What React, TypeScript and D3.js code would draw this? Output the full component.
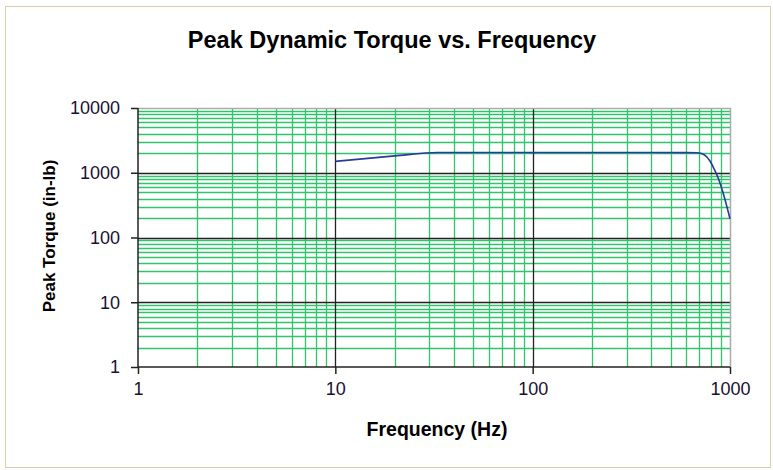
import React, { useEffect, useRef } from 'react'
import * as d3 from 'd3'

// Frequency (Hz) vs peak torque (in-lb)
const freq = [10, 20, 33, 100, 400, 680, 740, 790, 830, 870, 930, 1000]
const torque = [1500, 1820, 2050, 2050, 2050, 2040, 1900, 1530, 1150, 835, 450, 195]

const xTicks = [1, 10, 100, 1000]
const yTicks = [1, 10, 100, 1000, 10000]

const W = 773
const H = 470
const margin = { top: 108, right: 43, bottom: 103, left: 138 }

const App: React.FC = () => {
    const svgRef = useRef<SVGSVGElement>(null)

    useEffect(() => {
        if (!svgRef.current) return
        const svg = d3.select(svgRef.current)
        svg.selectAll('*').remove()

        const font = '"Liberation Sans", Arial, sans-serif'
        const x = d3.scaleLog().domain([1, 1000]).range([margin.left, W - margin.right])
        const y = d3.scaleLog().domain([1, 10000]).range([H - margin.bottom, margin.top])
        const [x0, x1] = x.range()
        const [y0, y1] = y.range()

        svg.append('rect').attr('width', W).attr('height', H).attr('fill', '#fff')
        // outer chart frame
        svg.append('rect')
            .attr('x', 5.5).attr('y', 6.5).attr('width', W - 8).attr('height', H - 9)
            .attr('fill', 'none').attr('stroke', '#d9d0a8').attr('stroke-width', 1)

        // minor grid
        const minorX: number[] = []
        for (let d = 1; d < 1000; d *= 10) for (let k = 2; k <= 9; k++) minorX.push(d * k)
        const minorY: number[] = []
        for (let d = 1; d < 10000; d *= 10) for (let k = 2; k <= 9; k++) minorY.push(d * k)

        const green = '#30c46c'
        svg.append('g').selectAll('line').data(minorY).enter().append('line')
            .attr('x1', x0).attr('x2', x1)
            .attr('y1', d => Math.round(y(d)) + 0.5).attr('y2', d => Math.round(y(d)) + 0.5)
            .attr('stroke', green).attr('stroke-width', 1.3)
        svg.append('g').selectAll('line').data(minorX).enter().append('line')
            .attr('y1', y0).attr('y2', y1)
            .attr('x1', d => Math.round(x(d)) + 0.5).attr('x2', d => Math.round(x(d)) + 0.5)
            .attr('stroke', green).attr('stroke-width', 1.3)

        // major grid (black)
        svg.append('g').selectAll('line').data(yTicks.slice(1, -1)).enter().append('line')
            .attr('x1', x0).attr('x2', x1)
            .attr('y1', d => Math.round(y(d)) + 0.5).attr('y2', d => Math.round(y(d)) + 0.5)
            .attr('stroke', '#222').attr('stroke-width', 1.3)
        svg.append('g').selectAll('line').data(xTicks.slice(1, -1)).enter().append('line')
            .attr('y1', y0).attr('y2', y1)
            .attr('x1', d => Math.round(x(d)) + 0.5).attr('x2', d => Math.round(x(d)) + 0.5)
            .attr('stroke', '#222').attr('stroke-width', 1.3)

        // top/right border gray
        svg.append('path')
            .attr('d', `M${x0},${y1 + 0.5}H${x1 + 0.5}V${y0}`)
            .attr('fill', 'none').attr('stroke', '#aaa').attr('stroke-width', 1.5)

        // axes
        const yAxis = d3.axisLeft(y).tickValues(yTicks).tickFormat(d3.format('d')).tickSize(7).tickPadding(11)
        const gy = svg.append('g').attr('transform', `translate(${x0},0)`).call(yAxis)
        const xAxis = d3.axisBottom(x).tickValues(xTicks).tickFormat(d3.format('d')).tickSize(7).tickPadding(8)
        const gx = svg.append('g').attr('transform', `translate(0,${y0})`).call(xAxis)
        for (const g of [gx, gy]) {
            g.select('.domain').attr('stroke', '#222').attr('stroke-width', 1.5)
            g.selectAll('.tick line').attr('stroke', '#222').attr('stroke-width', 1.5)
            g.selectAll('.tick text').attr('fill', '#1a1030').style('font-size', '18px').style('font-family', font)
        }
        gy.select('.domain').attr('d', `M0,${y0}V${y1}`)
        gx.select('.domain').attr('d', `M${x0},0H${x1}`)

        // series
        const line = d3.line<number>()
            .x((_, i) => x(freq[i]))
            .y(d => y(d))
            .curve(d3.curveMonotoneX)
        svg.append('path')
            .datum(torque)
            .attr('d', line)
            .attr('fill', 'none')
            .attr('stroke', '#2a3a9a')
            .attr('stroke-width', 1.6)

        // titles
        svg.append('text')
            .attr('x', 392).attr('y', 48)
            .attr('text-anchor', 'middle')
            .style('font-family', font).style('font-weight', 'bold').style('font-size', '23.5px')
            .text('Peak Dynamic Torque vs. Frequency')
        svg.append('text')
            .attr('x', 437).attr('y', 436)
            .attr('text-anchor', 'middle')
            .style('font-family', font).style('font-weight', 'bold').style('font-size', '19.5px')
            .text('Frequency (Hz)')
        svg.append('text')
            .attr('transform', `translate(55,236) rotate(-90)`)
            .attr('text-anchor', 'middle')
            .style('font-family', font).style('font-weight', 'bold').style('font-size', '17px')
            .text('Peak Torque (in-lb)')
    }, [])

    return (
        <svg ref={svgRef} width={W} height={H} style={{ position: 'absolute', left: 0, top: 0 }} />
    )
}

export default App
